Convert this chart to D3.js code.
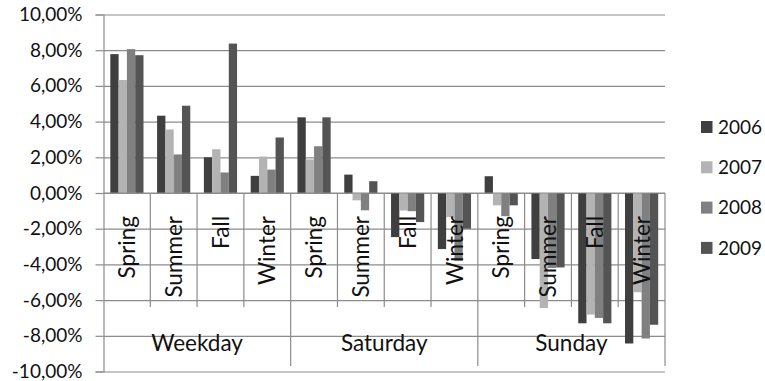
<!DOCTYPE html>
<html>
<head>
<meta charset="utf-8">
<script src="https://cdn.jsdelivr.net/npm/d3@7"></script>
<style>
  html, body { margin: 0; padding: 0; background: #fff; }
  svg { display: block; }
  text { font-family: Lato, "Open Sans", sans-serif; fill: #111; }
</style>
</head>
<body>
<svg id="chart" width="765" height="381"></svg>
<script>
// Relative change by day type and season, one series per year (%)
const groups  = ["Weekday", "Saturday", "Sunday"];
const seasons = ["Spring", "Summer", "Fall", "Winter"];
const years   = ["2006", "2007", "2008", "2009"];

// values ordered Weekday(Spring..Winter), Saturday(...), Sunday(...)
const values2006 = [7.78, 4.33, 2.00, 0.96, 4.24, 1.03, -2.47, -3.14, 0.94, -3.70, -7.30, -8.43];
const values2007 = [6.33, 3.56, 2.45, 2.04, 1.88, -0.41, -0.98, -1.35, -0.69, -6.44, -6.81, -5.56];
const values2008 = [8.06, 2.16, 1.15, 1.31, 2.62, -0.97, -1.02, -3.80, -1.30, -4.20, -7.00, -8.15];
const values2009 = [7.72, 4.89, 8.37, 3.11, 4.24, 0.66, -1.63, -2.00, -0.69, -4.17, -7.30, -7.38];

const yTicks = [-10, -8, -6, -4, -2, 0, 2, 4, 6, 8, 10];

const seriesValues = [values2006, values2007, values2008, values2009];
const colors = ["#3f3f3f", "#b3b3b3", "#808080", "#545454"];

// flattened category keys: group|season
const cats = [];
groups.forEach(g => seasons.forEach(s => cats.push({ group: g, season: s, key: g + "|" + s })));

const rows = cats.map((c, i) => ({
  ...c,
  vals: years.map((yr, j) => ({ year: yr, value: seriesValues[j][i], color: colors[j] }))
}));

const svg = d3.select("#chart");
const plotLeft = 103.5, plotRight = 665, plotTop = 14.5, plotBottom = 371.5;

const x = d3.scaleBand().domain(cats.map(c => c.key)).range([plotLeft, plotRight]).paddingInner(0).paddingOuter(0);
const xYear = d3.scaleBand().domain(years).range([0, x.bandwidth()]).paddingInner(0).paddingOuter(0.82);
const y = d3.scaleLinear().domain([-10, 10]).range([plotBottom, plotTop]);

const grid = "#8c8c8c";

// horizontal gridlines
svg.append("g")
  .attr("transform", `translate(${plotLeft},0)`)
  .call(d3.axisRight(y).tickValues(yTicks).tickSize(plotRight - plotLeft).tickFormat(""))
  .call(g => g.select(".domain").remove())
  .call(g => g.selectAll("line").attr("stroke", grid).attr("stroke-width", 1.2));

// value axis with tick marks and labels
const loc = d3.formatLocale({ decimal: ",", thousands: ".", grouping: [3], currency: ["", ""], minus: "-" });
const fmt = loc.format(".2f");
svg.append("g")
  .attr("transform", `translate(${plotLeft},0)`)
  .call(d3.axisLeft(y).tickValues(yTicks).tickSize(8).tickPadding(13).tickFormat(d => fmt(d) + "%"))
  .call(g => g.select(".domain").attr("stroke", grid).attr("stroke-width", 1.2))
  .call(g => g.selectAll("line").attr("stroke", grid).attr("stroke-width", 1.2))
  .call(g => g.selectAll("text").attr("font-size", 19).attr("font-family", "Lato, sans-serif").attr("fill", "#111"));

// bars
const catG = svg.append("g").selectAll("g").data(rows).join("g")
  .attr("transform", d => `translate(${x(d.key)},0)`);
catG.selectAll("rect").data(d => d.vals).join("rect")
  .attr("x", d => xYear(d.year))
  .attr("width", xYear.bandwidth())
  .attr("y", d => y(Math.max(0, d.value)))
  .attr("height", d => Math.abs(y(d.value) - y(0)))
  .attr("fill", d => d.color);

// category axis: separators between seasons and between day groups
const y0 = y(0);
const axisG = svg.append("g");
cats.forEach((c, i) => {
  if (i === 0) return;
  const xb = x(c.key);
  const isGroupStart = seasons.indexOf(c.season) === 0;
  axisG.append("line")
    .attr("x1", xb).attr("x2", xb)
    .attr("y1", y0).attr("y2", isGroupStart ? 366 : 307)
    .attr("stroke", grid).attr("stroke-width", 1.2);
});
axisG.append("line")
  .attr("x1", plotRight).attr("x2", plotRight).attr("y1", y0).attr("y2", 366)
  .attr("stroke", grid).attr("stroke-width", 1.2);
axisG.append("line")
  .attr("x1", plotLeft).attr("x2", plotRight).attr("y1", y0).attr("y2", y0)
  .attr("stroke", grid).attr("stroke-width", 1.2);

// season labels (rotated)
axisG.selectAll("text.season").data(cats).join("text")
  .attr("class", "season")
  .attr("transform", d => `translate(${x(d.key) + x.bandwidth() / 2},216) rotate(-90)`)
  .attr("text-anchor", "end")
  .attr("dy", "0.36em")
  .attr("font-size", 22.5)
  .text(d => d.season);

// day-type labels
axisG.selectAll("text.group").data(groups).join("text")
  .attr("class", "group")
  .attr("x", g => {
    const ks = cats.filter(c => c.group === g).map(c => x(c.key));
    return (d3.min(ks) + d3.max(ks) + x.bandwidth()) / 2;
  })
  .attr("y", 351)
  .attr("text-anchor", "middle")
  .attr("font-size", 22.5)
  .text(g => g);

// legend
const legend = svg.append("g").selectAll("g").data(years).join("g")
  .attr("transform", (d, i) => `translate(701,${127 + i * 40.3})`);
legend.append("rect")
  .attr("x", 0).attr("y", -6).attr("width", 11.5).attr("height", 12)
  .attr("fill", (d, i) => colors[i]);
legend.append("text")
  .attr("x", 17).attr("y", 0).attr("dy", "0.36em")
  .attr("font-size", 19)
  .text(d => d);
</script>
</body>
</html>
